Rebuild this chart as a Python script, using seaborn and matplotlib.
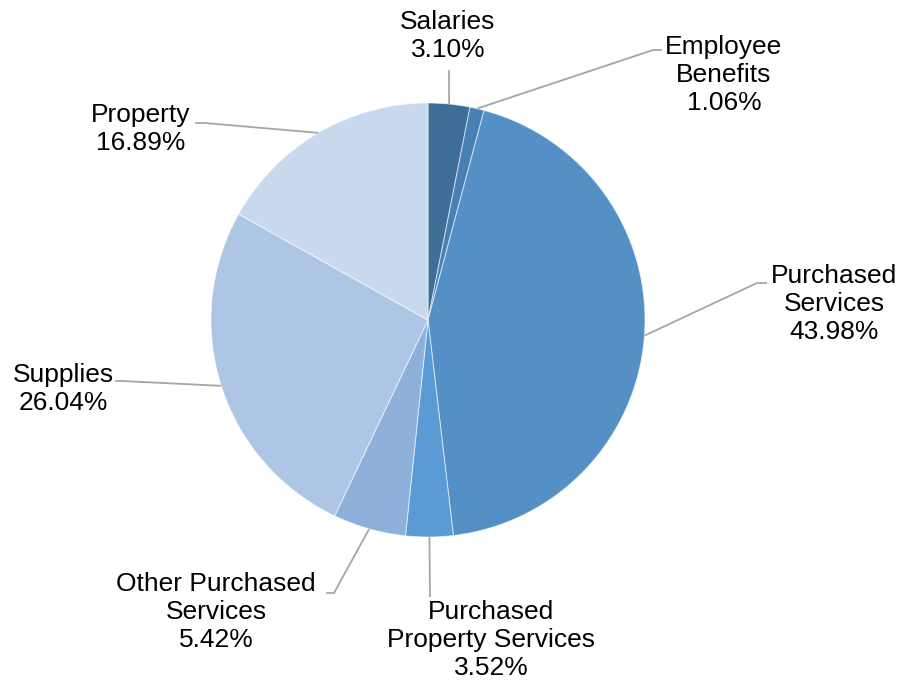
import numpy as np
import matplotlib
matplotlib.use("Agg")
import matplotlib.pyplot as plt
import seaborn as sns

# Expenditure shares by object category
categories = ["Salaries", "Employee\nBenefits", "Purchased\nServices",
              "Purchased\nProperty Services", "Other Purchased\nServices",
              "Supplies", "Property"]
shares = [3.10, 1.06, 43.98, 3.52, 5.42, 26.04, 16.89]
colors = ["#3E6D97", "#4A7FB5", "#5490C6", "#5B9BD5", "#8EB1DC", "#ADC6E6", "#C8D8ED"]

sns.set_style("white")
plt.rcParams["font.family"] = ["Liberation Sans", "DejaVu Sans"]

W, H = 900, 685
fig = plt.figure(figsize=(W / 100, H / 100), dpi=100)
cx, cy, r = 428, 320, 217
ax = fig.add_axes([(cx - r) / W, (H - cy - r) / H, 2 * r / W, 2 * r / H])

wedges, _ = ax.pie(shares, colors=colors, startangle=90, counterclock=False,
                   radius=1.0,
                   wedgeprops=dict(edgecolor=(1, 1, 1, 0.6), linewidth=0.7))
ax.set_xlim(-1, 1)
ax.set_ylim(-1, 1)
ax.set_aspect("equal")
ax.axis("off")


def px(x, y):
    """Pixel position -> data coordinates of the pie axes."""
    return (x - cx) / r, (cy - y) / r


# label centre, elbow point and end point of each leader line (pixels)
layout = [
    ((448, 36), (449, 70), (449, 70)),
    ((724, 75), (653, 50), (662, 50)),
    ((834, 304), (757, 283), (767, 283)),
    ((491, 640), (430, 597), (430, 597)),
    ((216, 612), (334, 593), (326, 593)),
    ((63, 389), (122, 381), (115, 381)),
    ((141, 129), (205, 123), (195, 123)),
]

for w, cat, val, (lab, elbow, end) in zip(wedges, categories, shares, layout):
    mid = np.deg2rad((w.theta1 + w.theta2) / 2)
    x0, y0 = np.cos(mid), np.sin(mid)
    ex, ey = px(*elbow)
    nx, ny = px(*end)
    ax.plot([x0, ex, nx], [y0, ey, ny], color="#A6A6A6", lw=1.3,
            clip_on=False, solid_capstyle="butt")
    tx, ty = px(*lab)
    ax.text(tx, ty, f"{cat}\n{val:.2f}%", ha="center", va="center",
            fontsize=19, color="#000000", linespacing=1.22, clip_on=False)

fig.savefig("out.png", dpi=100, facecolor="white")
